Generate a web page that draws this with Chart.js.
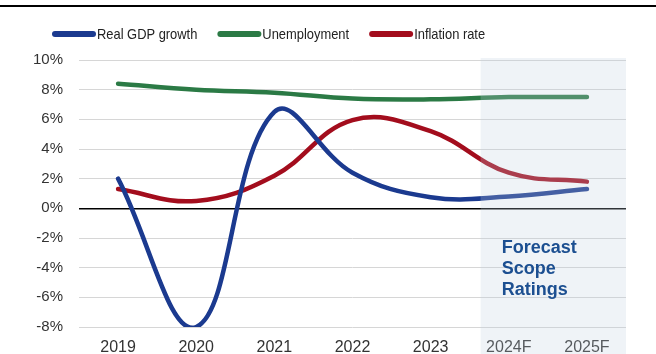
<!DOCTYPE html>
<html>
<head>
<meta charset="utf-8">
<script src="https://cdn.jsdelivr.net/npm/chart.js@4"></script>
<style>
  html, body { margin: 0; padding: 0; background: #fff; }
  #wrap { width: 656px; height: 354px; }
</style>
</head>
<body>
<div id="wrap"><canvas id="chart" width="656" height="354"></canvas></div>
<script>
// Dados
const years = ['2019', '2020', '2021', '2022', '2023', '2024F', '2025F'];
const gdpGrowth = [2.0, -8.0, 6.5, 2.4, 0.75, 0.8, 1.3];
const unemployment = [8.4, 8.0, 7.8, 7.4, 7.35, 7.5, 7.5];
const inflation = [1.3, 0.5, 2.2, 5.95, 5.2, 2.4, 1.8];
const seriesNames = ['Real GDP growth', 'Unemployment', 'Inflation rate'];
const forecastLabel = ['Forecast', 'Scope', 'Ratings'];

const colors = ['#1b3a8f', '#2b7a45', '#a30d1d'];
const fontMain = '"Liberation Sans", Arial, sans-serif';

// linha preta no topo + área de previsão + legenda
const extras = {
    id: 'extras',
    beforeDraw(chart) {
        const ctx = chart.ctx;
        ctx.save();
        ctx.fillStyle = '#000';
        ctx.fillRect(0, 5, chart.width, 2);
        ctx.restore();
    },
    afterDatasetsDraw(chart) {
        const ctx = chart.ctx;
        const x = chart.scales.x;
        const area = chart.chartArea;
        const left = x.getPixelForValue(4.64);
        ctx.save();
        ctx.fillStyle = 'rgba(191, 207, 223, 0.25)';
        ctx.fillRect(left, area.top - 2, area.right - left, chart.height - area.top + 2);

        ctx.fillStyle = '#1c4f91';
        ctx.font = 'bold 18px ' + fontMain;
        ctx.textAlign = 'left';
        ctx.textBaseline = 'alphabetic';
        forecastLabel.forEach((t, i) => ctx.fillText(t, left + 21, 253 + i * 21));
        ctx.restore();
    },
    afterDraw(chart) {
        const ctx = chart.ctx;
        const squeeze = 0.86; // texto da legenda é mais estreito
        ctx.save();
        ctx.font = '15px ' + fontMain;
        ctx.textBaseline = 'middle';
        let cx = 52;
        const y = 34;
        chart.data.datasets.forEach((ds) => {
            ctx.strokeStyle = ds.borderColor;
            ctx.lineWidth = 6;
            ctx.lineCap = 'round';
            ctx.beginPath();
            ctx.moveTo(cx + 3, y);
            ctx.lineTo(cx + 41, y);
            ctx.stroke();
            ctx.fillStyle = '#222';
            ctx.save();
            ctx.translate(cx + 45, y + 1);
            ctx.scale(squeeze, 1);
            ctx.fillText(ds.label, 0, 0);
            ctx.restore();
            cx += 45 + ctx.measureText(ds.label).width * squeeze + 20;
        });
        ctx.restore();
    }
};

const ctx = document.getElementById('chart').getContext('2d');
const chart = new Chart(ctx, {
    type: 'line',
    data: {
        labels: years,
        datasets: [
            { label: seriesNames[0], data: gdpGrowth, borderColor: colors[0] },
            { label: seriesNames[1], data: unemployment, borderColor: colors[1] },
            { label: seriesNames[2], data: inflation, borderColor: colors[2] }
        ]
    },
    options: {
        responsive: false,
        animation: false,
        layout: { padding: { top: 60, right: 30, left: 0, bottom: 0 } },
        elements: {
            line: { tension: 0.4, borderWidth: 4.5, capBezierPoints: false, borderCapStyle: 'round' },
            point: { radius: 0, hoverRadius: 0 }
        },
        plugins: { legend: { display: false }, tooltip: { enabled: false } },
        scales: {
            x: {
                offset: true,
                grid: { display: false, drawTicks: false },
                border: { display: false },
                ticks: { color: '#333', padding: 11, maxRotation: 0, font: { family: fontMain, size: 16 } },
                afterFit: s => { s.height = 27; }
            },
            y: {
                min: -8,
                max: 10,
                grid: {
                    drawTicks: false,
                    color: c => c.tick.value === 0 ? '#000' : '#d6d6d6',
                    lineWidth: c => c.tick.value === 0 ? 1.5 : 1
                },
                border: { display: false },
                ticks: {
                    stepSize: 2,
                    padding: 16,
                    color: '#333',
                    font: { family: fontMain, size: 15 },
                    callback: v => v + '%'
                },
                afterFit: s => { s.width = 79; }
            }
        }
    },
    plugins: [extras]
});
</script>
</body>
</html>
